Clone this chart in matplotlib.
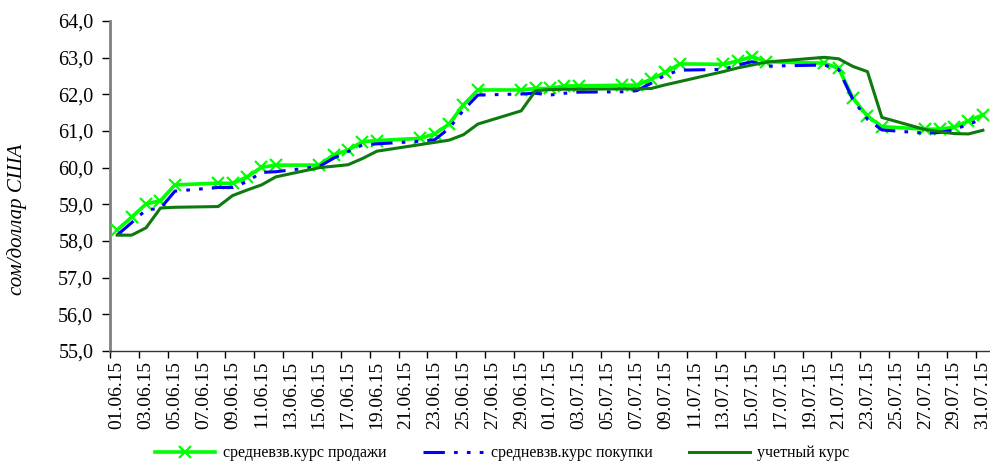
import numpy as np
import pandas as pd
import matplotlib
matplotlib.use("Agg")
import matplotlib.pyplot as plt

nan = np.nan
dates = pd.date_range("2015-06-01", "2015-07-31", freq="D")
date_labels = [d.strftime("%d.%m.%y") for d in dates]

sale = [58.30, 58.65, 59.01, 59.10, 59.53, nan, nan, 59.58, 59.57, 59.75,
        60.01, 60.07, nan, nan, 60.07, 60.35, 60.48, 60.71, 60.74, nan,
        nan, 60.80, 60.92, 61.19, 61.71, 62.12, nan, nan, 62.12, 62.16,
        62.16, 62.23, 62.23, nan, nan, 62.25, 62.25, 62.41, 62.60, 62.83,
        nan, nan, 62.82, 62.91, 63.03, 62.89, nan, nan, nan, 62.85,
        62.71, 61.89, 61.41, 61.12, nan, nan, 61.05, 61.05, 61.10, 61.28,
        61.44]

purchase = [58.16, 58.50, 58.85, 58.89, 59.36, nan, nan, 59.46, 59.46, 59.62,
            59.87, 59.89, nan, nan, 60.03, 60.26, 60.44, 60.62, 60.65, nan,
            nan, 60.72, 60.76, 61.07, 61.57, 61.98, nan, nan, 62.01, 62.03,
            61.98, 62.03, 62.06, nan, nan, 62.07, 62.10, 62.30, 62.53, 62.66,
            nan, nan, 62.68, 62.80, 62.89, 62.77, nan, nan, nan, 62.80,
            62.68, 61.85, 61.32, 61.03, nan, nan, 60.94, 60.96, 61.03, 61.19,
            61.32]

official = [58.16, 58.16, 58.36, 58.90, 58.92, nan, nan, 58.94, 59.24, 59.39,
            59.53, 59.75, nan, nan, 60.00, 60.04, 60.08, 60.25, 60.45, nan,
            nan, 60.63, 60.69, 60.75, 60.90, 61.19, nan, nan, 61.55, 62.10,
            62.13, 62.14, 62.14, nan, nan, 62.15, 62.15, 62.16, 62.26, 62.35,
            nan, nan, 62.62, 62.72, 62.80, 62.88, nan, nan, nan, 63.01,
            62.97, 62.76, 62.62, 61.37, nan, nan, 61.04, 60.98, 60.93, 60.92,
            61.02]

series_names = ["средневзв.курс продажи", "средневзв.курс покупки", "учетный курс"]
y_ticks = np.arange(55, 65, 1)
y_label = "сом/доллар США"

plt.rcParams['font.family'] = ['Liberation Serif', 'DejaVu Serif']

fig = plt.figure(figsize=(9.90, 4.63), dpi=100)
ax = fig.add_axes([0.1111, 0.2419, 0.889, 0.7127])

x = np.arange(len(dates))

def conn(vals):
    v = np.asarray(vals, dtype=float)
    m = ~np.isnan(v)
    return x[m], v[m]

xs, ys = conn(sale)
ax.plot(xs, ys, color="#00FF00", lw=2.6, marker="x", ms=8.5, mew=1.6,
        label=series_names[0], zorder=3)
xp, yp = conn(purchase)
ax.plot(xp, yp, color="#0000FF", lw=2.2, dashes=(7, 3, 1.2, 3, 1.2, 3),
        label=series_names[1], zorder=4)
xo, yo = conn(official)
ax.plot(xo, yo, color="#0C7A0C", lw=2.2, label=series_names[2], zorder=5)

ax.set_xlim(-0.5, len(dates) - 0.5)
ax.set_ylim(55, 64)
ax.set_yticks(y_ticks)
ax.set_yticklabels([f"{v:.1f}".replace(".", ",") for v in y_ticks], fontsize=14.5)

ax.set_xticks(x[::2])
ax.set_xticklabels(date_labels[::2], rotation=90, fontsize=14)
ax.set_xticks(np.arange(-0.5, len(dates), 2), minor=True)
ax.tick_params(axis="x", which="major", length=0, pad=7)
ax.tick_params(axis="x", which="minor", length=5, width=1, direction="out")
ax.tick_params(axis="y", length=6, width=1, direction="out", pad=6)

for s in ["top", "right"]:
    ax.spines[s].set_visible(False)
ax.spines["left"].set_color("#808080")
ax.spines["left"].set_linewidth(2)
ax.spines["bottom"].set_color("#333333")
ax.spines["bottom"].set_linewidth(1)

ax.set_ylabel(y_label, fontsize=15, style="italic")
ax.yaxis.set_label_coords(-0.094, 0.40)

fig.legend(loc="lower center", bbox_to_anchor=(0.507, -0.027), ncol=3,
           frameon=False, fontsize=11.5, handlelength=3.8, columnspacing=2.3,
           handletextpad=0.45)

fig.savefig("out.png", dpi=100)
